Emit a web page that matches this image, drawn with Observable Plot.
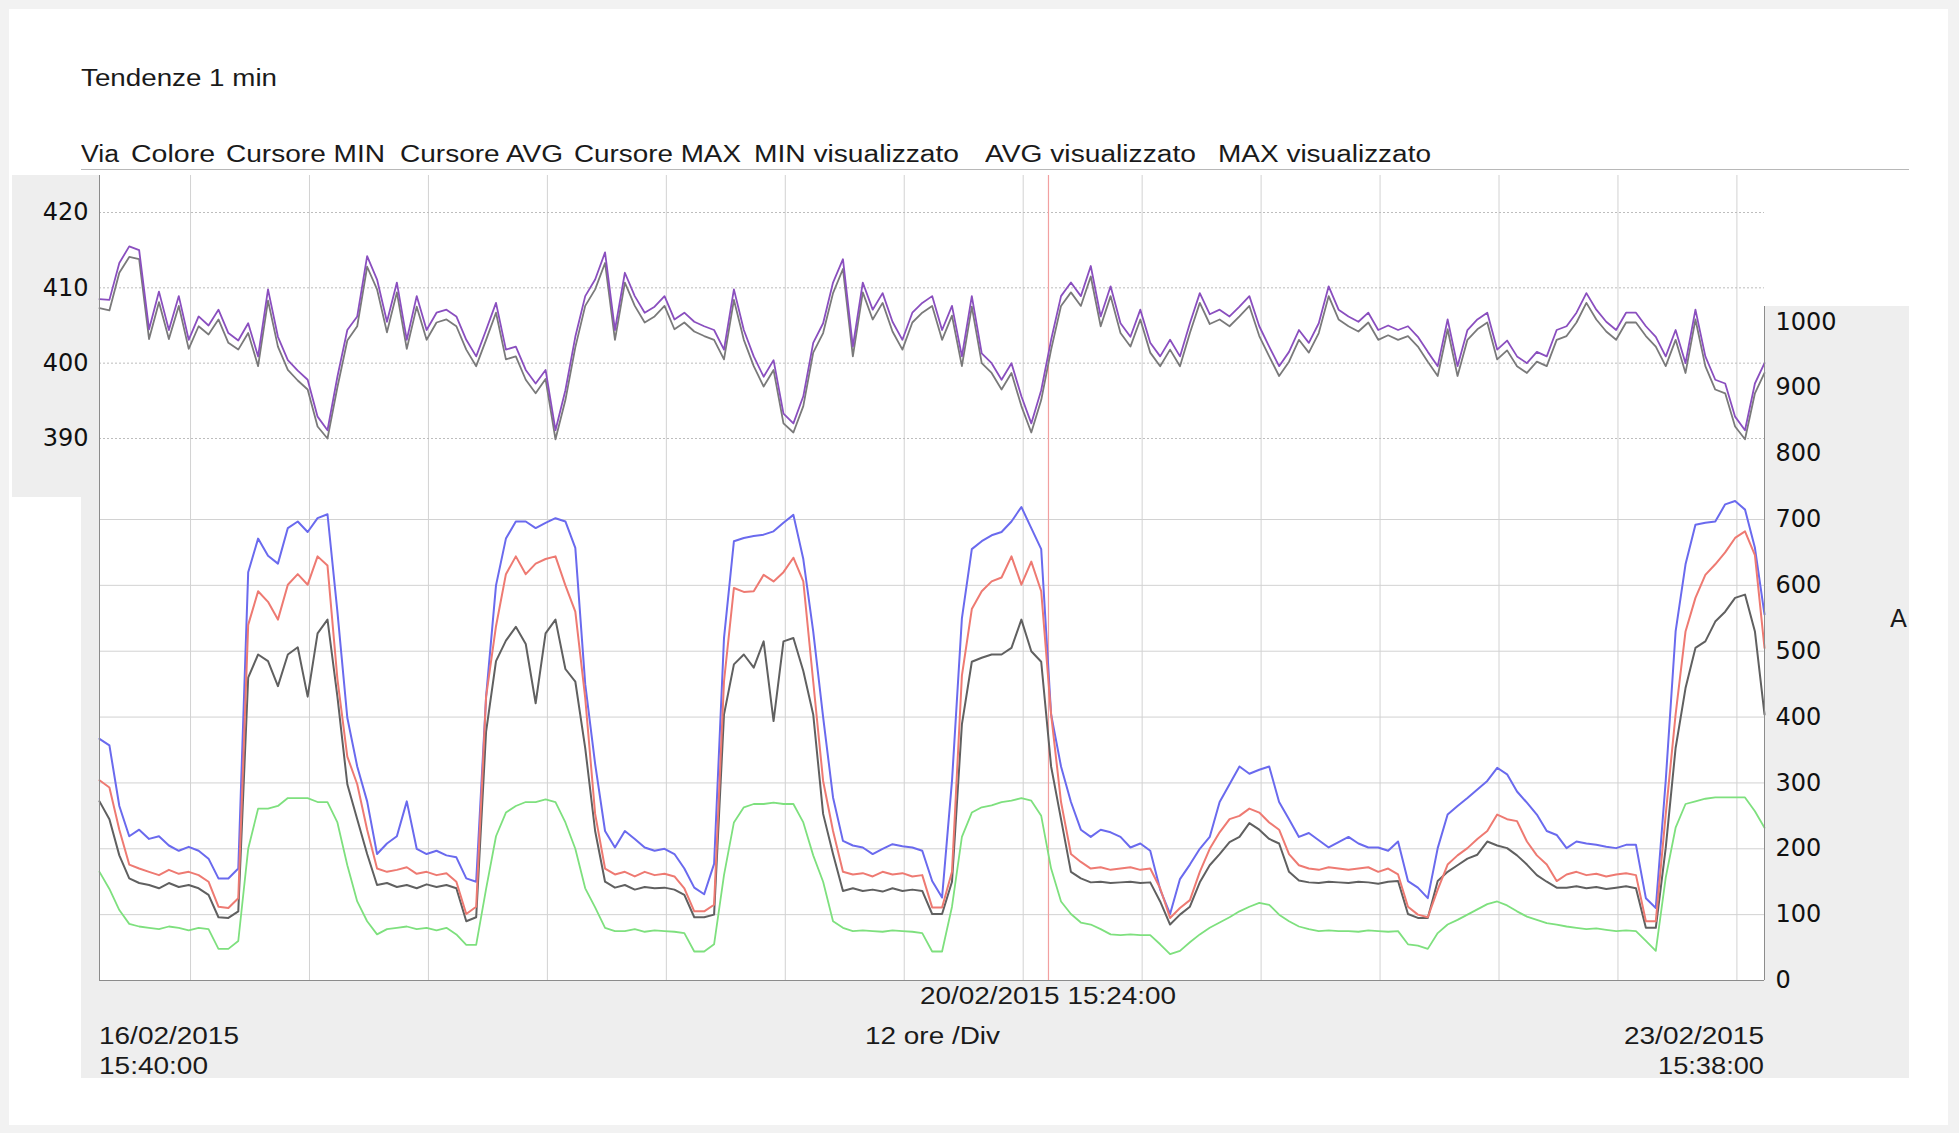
<!DOCTYPE html>
<html><head><meta charset="utf-8">
<script src="https://cdn.jsdelivr.net/npm/d3@7"></script>
<script src="https://cdn.jsdelivr.net/npm/@observablehq/plot@0.6"></script>
<style>
html,body{margin:0;padding:0;background:#f2f2f2;}
#page{position:relative;width:1959px;height:1133px;overflow:hidden;background:#f2f2f2;}
.panel{position:absolute;}
.lbl{position:absolute;font-family:"Liberation Sans",Arial,sans-serif;font-size:23px;color:#1a1a1a;white-space:nowrap;line-height:28px;height:28px;transform-origin:left center;}
#page svg{position:absolute;left:0;top:0;}
</style></head><body>
<div id="page">
  <div class="panel" style="left:9px;top:9px;width:1939px;height:1116px;background:#ffffff"></div>
  <div class="panel" style="left:12px;top:175px;width:87px;height:322px;background:#eeeeee"></div>
  <div class="panel" style="left:81px;top:497px;width:18px;height:483px;background:#eeeeee"></div>
  <div class="panel" style="left:81px;top:980px;width:1828px;height:98px;background:#eeeeee"></div>
  <div class="panel" style="left:1764px;top:306px;width:145px;height:674px;background:#eeeeee"></div>
  <div class="panel" style="left:81px;top:169px;width:1828px;height:1px;background:#b8b8b8"></div>
</div>
<script>
// ---------- data ----------
const startTime = new Date(Date.UTC(2015, 1, 16, 15, 40));
const endTime = new Date(Date.UTC(2015, 1, 23, 15, 38));
const cursorTime = new Date(Date.UTC(2015, 1, 20, 15, 24));
const firstGridTime = new Date(Date.UTC(2015, 1, 17, 0, 51));

const titleText = "Tendenze 1 min";
const headerLabels = ["Via", "Colore", "Cursore MIN", "Cursore AVG", "Cursore MAX", "MIN visualizzato", "AVG visualizzato", "MAX visualizzato"];
const currentTicks = [0, 100, 200, 300, 400, 500, 600, 700, 800, 900, 1000];
const currentGrid = [100, 200, 300, 400, 500, 600, 700];
const voltTicks = [390, 400, 410, 420];
const unitLabel = "A";
const startLabel = ["16/02/2015", "15:40:00"];
const endLabel = ["23/02/2015", "15:38:00"];
const cursorLabel = "20/02/2015 15:24:00";
const divLabel = "12 ore /Div";

// hourly samples from 16/02/2015 15:40
const currentMax = [
367,357,265,219,229,215,219,205,197,203,
197,185,155,155,170,620,671,645,633,687,
697,681,702,708,560,399,325,272,192,208,
219,272,200,192,197,190,187,155,150,431,
600,671,697,697,687,695,702,697,657,450,
329,227,202,227,215,202,197,200,192,170,
141,131,177,520,667,672,675,677,682,695,
707,640,530,400,278,212,205,202,192,200,
207,204,202,197,151,126,303,550,655,667,
676,681,697,719,687,655,404,325,271,229,
218,229,225,218,202,208,197,138,101,154,
176,200,218,271,298,325,314,320,325,271,
245,218,224,213,202,210,218,208,202,202,
197,211,151,141,125,201,252,265,277,290,
303,323,313,287,270,252,227,221,201,211,
208,206,203,201,206,206,125,110,303,530,
632,692,695,697,723,728,715,657,556];

const currentAvg = [
304,293,229,176,170,165,160,168,162,165,
160,150,112,110,125,540,591,575,548,601,
617,601,644,630,458,340,298,229,170,165,
168,172,162,165,160,163,150,101,112,431,
538,617,644,617,633,640,644,600,560,429,
253,170,161,165,158,165,160,162,158,140,
105,105,115,454,596,590,591,616,606,620,
642,606,454,303,227,165,161,163,158,165,
161,163,158,160,111,111,165,463,564,591,
606,612,644,601,636,591,404,271,192,180,
170,172,168,170,172,168,170,140,95,110,
122,165,200,225,245,250,261,255,240,229,
192,175,170,168,172,170,168,170,172,165,
170,161,112,100,96,138,176,190,201,215,
227,252,245,242,211,190,176,151,161,165,
160,162,158,161,163,160,90,90,252,404,
530,581,616,632,650,672,682,646,505];

const currentMin = [
272,245,190,155,148,145,140,148,142,145,
140,130,96,95,105,460,495,485,447,495,
506,431,527,548,431,298,245,192,145,148,
142,145,140,146,142,145,140,90,96,378,
485,516,537,511,421,527,548,473,454,353,
227,150,141,145,138,142,140,141,138,130,
96,96,100,404,480,495,475,515,394,515,
520,470,404,253,192,136,140,136,138,135,
140,136,138,136,101,101,150,389,484,490,
495,495,505,548,500,484,325,245,165,155,
149,150,148,149,150,148,149,120,85,100,
112,149,175,192,210,218,239,229,215,208,
165,152,149,148,150,149,148,150,149,147,
150,151,101,95,95,151,165,175,185,191,
211,205,201,190,176,160,150,141,141,143,
140,142,139,141,143,140,80,80,201,353,
444,505,515,545,560,581,586,530,404];

const currentOther = [
165,139,107,86,82,80,78,82,80,76,
80,78,48,48,60,200,261,261,265,277,
277,277,271,271,240,175,120,90,70,78,
80,82,78,80,76,80,70,54,54,139,
219,255,265,271,271,275,271,240,200,140,
111,80,75,75,78,74,76,75,74,72,
44,44,55,160,240,263,268,268,270,268,
268,240,190,150,90,80,75,76,75,74,
76,75,74,72,44,44,112,218,255,263,
266,271,273,277,273,250,170,120,101,88,
85,78,70,69,70,69,69,55,40,45,
58,70,80,88,96,105,112,118,115,100,
90,82,78,75,76,75,75,74,76,75,
74,75,55,53,48,72,85,92,100,108,
116,120,114,105,97,92,87,85,82,80,
78,79,77,75,76,75,60,45,156,232,
268,272,276,278,278,278,278,257,232];

const voltAvg = [
408.5,408.4,413.3,415.5,415.0,404.5,409.5,404.4,408.9,403.1,
406.2,405.0,407.1,404.0,403.0,405.3,400.9,409.8,403.5,400.4,
399.0,397.8,392.9,391.1,398.2,404.4,406.2,414.2,411.1,405.5,
410.7,403.1,408.9,404.4,406.7,407.1,406.2,403.1,400.9,404.4,
408.0,401.8,402.2,399.1,397.3,399.1,391.1,396.4,403.5,408.9,
411.1,414.7,404.4,412.0,408.9,406.7,407.5,408.9,405.8,406.7,
405.5,404.9,404.4,401.8,409.8,404.4,400.9,398.2,400.4,393.3,
392.0,395.6,402.7,405.3,410.7,413.8,402.2,410.7,407.1,409.3,
405.5,403.1,406.7,408.0,408.9,404.4,407.6,400.9,408.9,401.3,
400.0,397.8,400.0,395.6,392.0,396.4,403.1,408.9,410.7,408.9,
412.9,406.2,410.2,405.3,403.5,407.1,402.7,400.9,403.1,400.9,
405.3,409.3,406.5,407.1,406.2,407.5,408.9,404.9,402.2,399.6,
401.5,404.4,402.7,405.3,410.2,407.1,406.2,405.5,406.7,404.4,
405.0,404.4,404.9,403.5,401.5,399.6,405.8,399.6,404.4,405.8,
406.7,401.8,403.0,400.9,400.0,401.5,400.9,404.4,404.9,406.7,
409.3,407.1,405.5,404.4,406.7,406.7,404.9,403.5,400.9,404.4,
400.0,407.1,400.9,397.8,397.3,392.9,391.1,397.3,400.0];

const voltMin = [
407.3,407.0,412.0,414.1,413.8,403.2,408.1,403.2,407.6,401.9,
404.9,403.8,405.8,402.7,401.8,404.0,399.6,408.3,402.2,399.1,
397.7,396.5,391.6,390.0,396.8,403.0,404.9,412.8,409.8,404.1,
409.4,401.9,407.5,403.1,405.4,405.8,404.9,401.8,399.6,403.1,
406.7,400.5,400.9,397.8,396.0,397.9,389.9,395.1,402.1,407.6,
409.8,413.3,403.1,410.7,407.6,405.4,406.2,407.6,404.5,405.4,
404.2,403.6,403.1,400.5,408.4,403.1,399.6,396.9,399.1,392.0,
390.8,394.3,401.4,404.0,409.3,412.5,400.9,409.4,405.8,408.0,
404.2,401.8,405.4,406.7,407.6,403.1,406.3,399.6,407.5,400.0,
398.7,396.5,398.7,394.3,390.8,395.1,401.8,407.6,409.4,407.6,
411.5,404.9,408.9,404.0,402.2,405.8,401.4,399.6,401.8,399.6,
404.0,408.0,405.2,405.8,404.9,406.2,407.6,403.6,400.9,398.3,
400.2,403.1,401.4,404.0,408.9,405.8,404.9,404.2,405.4,403.1,
403.7,403.1,403.6,402.2,400.2,398.3,404.5,398.3,403.1,404.5,
405.4,400.5,401.7,399.6,398.7,400.2,399.6,403.1,403.6,405.4,
408.0,405.8,404.2,403.1,405.4,405.4,403.6,402.2,399.6,403.1,
398.7,405.8,399.6,396.5,396.0,391.6,389.9,396.0,398.7];

// ---------- layout / scale mapping ----------
const W = 1959, H = 1133;
const plotLeft = 99, plotRight = 1764, plotTop = 175, plotBottom = 980;
const pxPerAmp = (plotBottom - 519) / 700;      // 700 A gridline position
const v390px = 438, v420px = 212;               // left-axis pixel positions
const c390 = (plotBottom - v390px) / pxPerAmp;
const cPerVolt = ((plotBottom - v420px) / pxPerAmp - c390) / 30;
const vToC = v => c390 + (v - 390) * cPerVolt;
const cToV = c => 390 + (c - c390) / cPerVolt;
const yTop = (plotBottom - plotTop) / pxPerAmp;
const rightAxisTop = (plotBottom - 306) / pxPerAmp;

const hourMs = 3600e3;
const rows = currentMax.map((_, i) => {
  const t = new Date(Math.min(startTime.getTime() + i * hourMs, endTime.getTime()));
  return {t, max: currentMax[i], avg: currentAvg[i], min: currentMin[i], other: currentOther[i],
          vAvg: vToC(voltAvg[i]), vMin: vToC(voltMin[i])};
});
const gridTimes = d3.range(14).map(k => new Date(firstGridTime.getTime() + k * 12 * hourMs));

const chart = Plot.plot({
  width: W, height: H,
  marginLeft: plotLeft, marginRight: W - plotRight, marginTop: plotTop, marginBottom: H - plotBottom,
  style: {background: "transparent", fontFamily: "'DejaVu Sans', Verdana, sans-serif", fontSize: "24px", color: "#111", overflow: "visible"},
  x: {type: "utc", domain: [startTime, endTime], axis: null},
  y: {domain: [0, yTop], axis: null},
  marks: [
    Plot.gridX(gridTimes, {stroke: "#d2d2d2", strokeOpacity: 1}),
    Plot.gridY(currentGrid, {stroke: "#d2d2d2", strokeOpacity: 1}),
    Plot.gridY(voltTicks.map(vToC), {stroke: "#bdbdbd", strokeOpacity: 1, strokeDasharray: "2,2"}),
    Plot.ruleX([cursorTime], {stroke: "#f2a0a0", strokeWidth: 1.2}),
    Plot.lineY(rows, {x: "t", y: "other", stroke: "#7ee07e", strokeWidth: 1.8}),
    Plot.lineY(rows, {x: "t", y: "max", stroke: "#6a6aee", strokeWidth: 2}),
    Plot.lineY(rows, {x: "t", y: "min", stroke: "#606060", strokeWidth: 2}),
    Plot.lineY(rows, {x: "t", y: "avg", stroke: "#ee7a72", strokeWidth: 2}),
    Plot.lineY(rows, {x: "t", y: "vMin", stroke: "#7a7a7a", strokeWidth: 1.8}),
    Plot.lineY(rows, {x: "t", y: "vAvg", stroke: "#8a4fbf", strokeWidth: 1.8}),
    Plot.ruleX([startTime], {stroke: "#8c8c8c"}),
    Plot.ruleX([endTime], {y1: 0, y2: rightAxisTop, stroke: "#8c8c8c"}),
    Plot.ruleY([0], {stroke: "#8c8c8c"}),
    Plot.axisY(currentTicks, {anchor: "right", tickSize: 0, tickPadding: 11, label: null, fill: "#111",
      tickFormat: d => String(d)}),
    Plot.axisY(voltTicks.map(vToC), {anchor: "left", tickSize: 0, tickPadding: 11, label: null, fill: "#111",
      tickFormat: c => String(Math.round(cToV(c)))})
  ]
});
const page = document.getElementById("page");
page.appendChild(chart);

// ---------- html texts ----------
function place(text, x, cy, width, align, extra) {
  const s = document.createElement("div");
  s.className = "lbl";
  s.textContent = text;
  if (extra) Object.assign(s.style, extra);
  page.appendChild(s);
  const natural = s.getBoundingClientRect().width;
  const k = width / natural;
  let x0 = x;
  if (align === "right") x0 = x - width;
  if (align === "center") x0 = x - width / 2;
  s.style.left = x0 + "px";
  s.style.top = (cy - 14) + "px";
  s.style.transform = `scaleX(${k})`;
  return s;
}
const xs = chart.scale("x");
place(titleText, 81, 78, 196, "left");
const headerPos = [[81, 38], [131, 84], [226, 159], [400, 163], [574, 167], [754, 205], [985, 211], [1218, 213]];
headerLabels.forEach((h, i) => place(h, headerPos[i][0], 154, headerPos[i][1], "left"));
place(cursorLabel, xs.apply(cursorTime), 996, 256, "center");
place(startLabel[0], xs.apply(startTime), 1036, 140, "left");
place(startLabel[1], xs.apply(startTime), 1066, 109, "left");
place(divLabel, 865, 1036, 135, "left");
place(endLabel[0], xs.apply(endTime), 1036, 140, "right");
place(endLabel[1], xs.apply(endTime), 1066, 106, "right");
place(unitLabel, 1898, 619, 17, "center", {fontFamily: "'DejaVu Sans', sans-serif", fontSize: "24px"});
</script>
</body></html>
